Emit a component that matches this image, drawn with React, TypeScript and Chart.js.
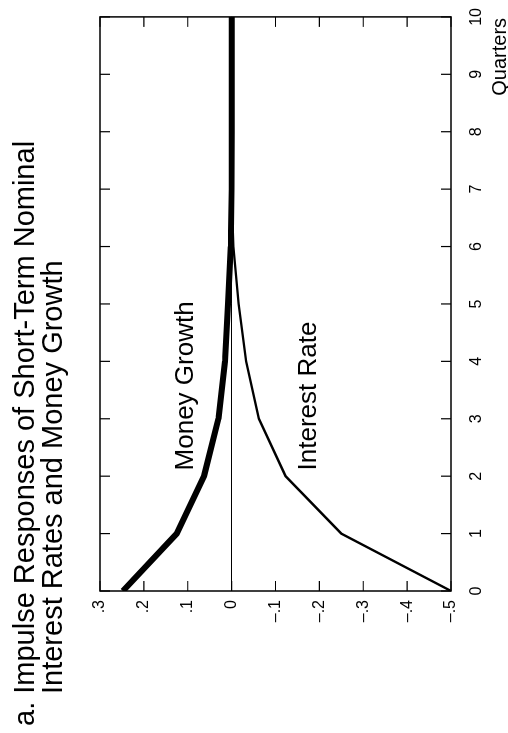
import React, { useRef, useEffect } from "react";
import { Chart, registerables } from "chart.js";

Chart.register(...registerables);

// quarters after the shock
const quarters = [0, 1, 2, 3, 4, 5, 6, 7, 8, 9, 10];
const moneyGrowth = [0.248, 0.125, 0.063, 0.03, 0.015, 0.008, 0.002, 0, 0, 0, 0];
const interestRate = [-0.5, -0.25, -0.123, -0.062, -0.033, -0.016, -0.004, 0.001, 0.001, 0, 0];

const titleLines = [
  "a. Impulse Responses of Short-Term Nominal",
  "Interest Rates and Money Growth",
];
const seriesNames = ["Money Growth", "Interest Rate"];
const xTitle = "Quarters";

const FONT = "'Liberation Sans', Arial, Helvetica, sans-serif";

// chart is drawn landscape and then turned a quarter turn
const W = 733;
const H = 508;

function fmtValue(v: number) {
  const r = Math.round(v * 10);
  if (r === 0) return "0";
  return (r < 0 ? "–." : ".") + Math.abs(r);
}

const framePlugin = {
  id: "frame",
  afterDraw(chart: any) {
    const { ctx, chartArea } = chart;
    const { left, right, top, bottom } = chartArea;
    const xs = chart.scales.x;
    const ys = chart.scales.y;
    const tick = 10;
    ctx.save();
    ctx.strokeStyle = "#000";
    ctx.lineWidth = 1.5;
    ctx.strokeRect(left, top, right - left, bottom - top);
    ctx.lineWidth = 1.2;
    ctx.beginPath();
    xs.ticks.forEach((t: any) => {
      const px = xs.getPixelForValue(t.value);
      ctx.moveTo(px, bottom);
      ctx.lineTo(px, bottom - tick);
      ctx.moveTo(px, top);
      ctx.lineTo(px, top + tick);
    });
    ys.ticks.forEach((t: any) => {
      const py = ys.getPixelForValue(t.value);
      ctx.moveTo(left, py);
      ctx.lineTo(left + tick, py);
      ctx.moveTo(right, py);
      ctx.lineTo(right - tick, py);
    });
    ctx.stroke();

    // texts
    ctx.fillStyle = "#000";
    ctx.textBaseline = "alphabetic";
    ctx.textAlign = "left";
    ctx.font = `29px ${FONT}`;
    ctx.fillText(titleLines[0], 7, 33.5);
    ctx.fillText(titleLines[1], 39, 62);

    ctx.font = `26px ${FONT}`;
    ctx.fillText(seriesNames[0], xs.getPixelForValue(2.1), ys.getPixelForValue(0.088));
    ctx.fillText(seriesNames[1], xs.getPixelForValue(2.1), ys.getPixelForValue(-0.192));

    ctx.font = `20px ${FONT}`;
    ctx.textAlign = "right";
    ctx.fillText(xTitle, right - 1, bottom + 55);
    ctx.restore();
  },
};

export default function App() {
  const canvas = useRef<HTMLCanvasElement>(null);

  useEffect(() => {
    const ctx = canvas.current!.getContext("2d");
    if (!ctx) return;

    const chart = new Chart(ctx, {
      type: "line",
      data: {
        datasets: [
          {
            label: seriesNames[0],
            data: quarters.map((q, i) => ({ x: q, y: moneyGrowth[i] })),
            borderColor: "#000",
            borderWidth: 6,
            pointRadius: 0,
            borderJoinStyle: "round",
          },
          {
            label: seriesNames[1],
            data: quarters.map((q, i) => ({ x: q, y: interestRate[i] })),
            borderColor: "#000",
            borderWidth: 2.4,
            pointRadius: 0,
          },
        ],
      },
      options: {
        responsive: false,
        animation: false,
        devicePixelRatio: 1,
        layout: { padding: { left: 0, right: 16, top: 100, bottom: 0 } },
        plugins: {
          legend: { display: false },
          tooltip: { enabled: false },
          title: { display: false },
        },
        scales: {
          x: {
            type: "linear",
            min: 0,
            max: 10,
            afterFit: (s: any) => {
              s.height = 57;
            },
            grid: { display: false },
            border: { display: false },
            ticks: {
              stepSize: 1,
              padding: 8,
              color: "#000",
              font: { family: FONT, size: 16 },
            },
          },
          y: {
            min: -0.5,
            max: 0.3,
            afterFit: (s: any) => {
              s.width = 142;
            },
            grid: {
              drawTicks: false,
              lineWidth: 1,
              color: (c: any) =>
                c.tick && Math.abs(c.tick.value) < 1e-9 ? "#000" : "rgba(0,0,0,0)",
            },
            border: { display: false },
            ticks: {
              stepSize: 0.1,
              padding: 9,
              color: "#000",
              font: { family: FONT, size: 16 },
              callback: (v: any) => fmtValue(Number(v)),
            },
          },
        },
      },
      plugins: [framePlugin],
    });

    return () => {
      chart.destroy();
    };
  }, []);

  return (
    <div style={{ position: "fixed", left: 0, top: 0, width: H, height: W, overflow: "hidden", background: "#fff" }}>
      <div
        style={{
          position: "absolute",
          left: 0,
          top: 0,
          width: W,
          height: H,
          transformOrigin: "0 0",
          transform: `translateY(${W}px) rotate(-90deg)`,
        }}
      >
        <canvas ref={canvas} width={W} height={H} style={{ width: W, height: H, display: "block" }} />
      </div>
    </div>
  );
}
